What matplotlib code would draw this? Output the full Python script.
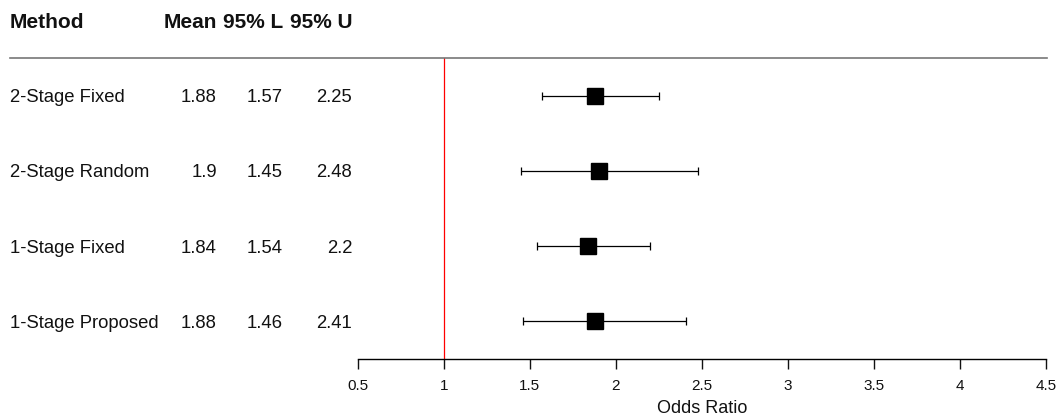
import matplotlib.pyplot as plt
import matplotlib.transforms as mtransforms
from matplotlib.lines import Line2D

plt.rcParams['font.family'] = ['Liberation Sans', 'DejaVu Sans']

# data
methods = ["2-Stage Fixed", "2-Stage Random", "1-Stage Fixed", "1-Stage Proposed"]
mean = [1.88, 1.9, 1.84, 1.88]
lower = [1.57, 1.45, 1.54, 1.46]
upper = [2.25, 2.48, 2.2, 2.41]
headers = ["Mean", "95% L", "95% U"]
xticks = [0.5, 1, 1.5, 2, 2.5, 3, 3.5, 4, 4.5]
ref_value = 1

W, H = 1058, 417
fig = plt.figure(figsize=(W / 100, H / 100), dpi=100)
ax = fig.add_axes([357.7 / W, 1 - 359 / H, 688 / W, 301 / H])

rows = list(range(len(methods), 0, -1))
err = [[m - l for m, l in zip(mean, lower)], [u - m for m, u in zip(mean, upper)]]
ax.errorbar(mean, rows, xerr=err, fmt='s', color='black', ms=11.5,
            ecolor='black', elinewidth=0.9, capsize=2.9, capthick=0.9)
ax.axvline(ref_value, color='red', lw=0.9)

ax.set_xlim(0.5, 4.5)
ax.set_ylim(0.5, len(methods) + 0.5)
ax.set_xticks(xticks)
ax.set_xticklabels([f"{t:g}" for t in xticks], fontsize=11)
ax.tick_params(axis='x', length=7.2, width=1.0, pad=7.5, colors='#111111')
ax.set_yticks([])
for s in ['left', 'right', 'top']:
    ax.spines[s].set_visible(False)
ax.spines['bottom'].set_linewidth(1.0)
ax.set_xlabel("Odds Ratio", fontsize=13, labelpad=5, color='#111111')

# table columns to the left of the plot
trans = mtransforms.blended_transform_factory(fig.transFigure, ax.transData)
col_x = [217 / W, 283 / W, 352 / W]
for r, name, m, l, u in zip(rows, methods, mean, lower, upper):
    ax.text(10 / W, r, name, transform=trans, ha='left', va='center_baseline',
            fontsize=13.3, color='#111111')
    for cx, v in zip(col_x, [m, l, u]):
        ax.text(cx, r, f"{v:g}", transform=trans, ha='right', va='center_baseline',
                fontsize=13.3, color='#111111')

hy = 1 - 22 / H
fig.text(10 / W, hy, "Method", ha='left', va='center', fontsize=15,
         fontweight='bold', color='#111111')
for cx, h in zip(col_x, headers):
    fig.text(cx, hy, h, ha='right', va='center', fontsize=15,
             fontweight='bold', color='#111111')
fig.add_artist(Line2D([10 / W, 1047 / W], [1 - 58 / H, 1 - 58 / H],
                      color='#777777', lw=1.2))

fig.savefig("out.png", dpi=100)
